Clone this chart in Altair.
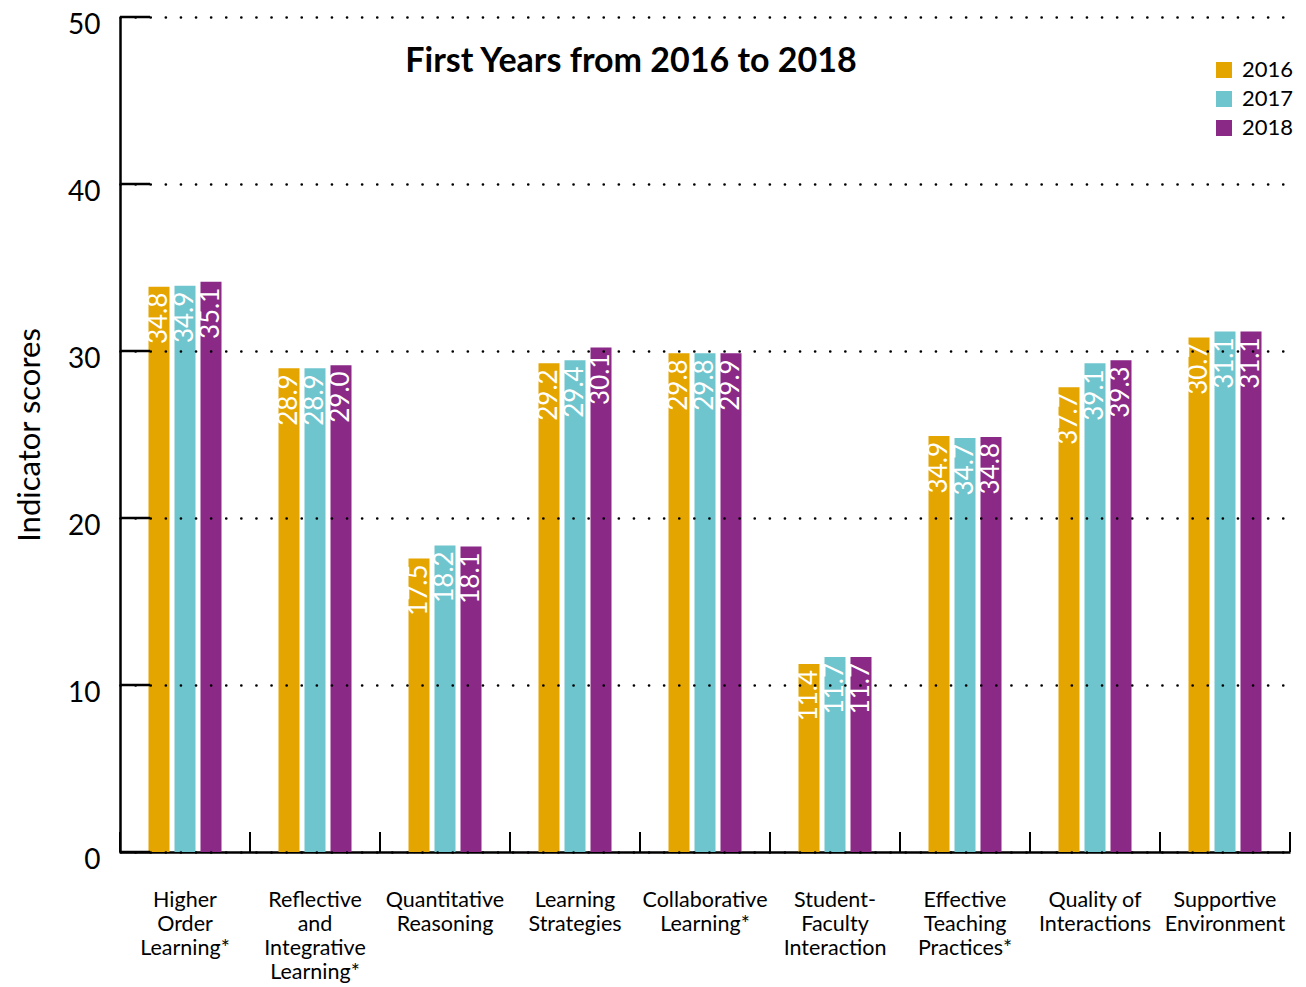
import altair as alt
import pandas as pd

categories = [
    "Higher|Order|Learning*",
    "Reflective|and|Integrative|Learning*",
    "Quantitative|Reasoning",
    "Learning|Strategies",
    "Collaborative|Learning*",
    "Student-|Faculty|Interaction",
    "Effective|Teaching|Practices*",
    "Quality of|Interactions",
    "Supportive|Environment",
]
years = ["2016", "2017", "2018"]

# bar heights as drawn in the picture
height_2016 = [33.85, 28.96, 17.58, 29.26, 29.86, 11.26, 24.91, 27.83, 30.81]
height_2017 = [33.91, 28.96, 18.36, 29.44, 29.86, 11.68, 24.79, 29.26, 31.17]
height_2018 = [34.15, 29.14, 18.30, 30.21, 29.86, 11.68, 24.85, 29.44, 31.17]

# value labels printed on the bars
label_2016 = ["34.8", "28.9", "17.5", "29.2", "29.8", "11.4", "34.9", "37.7", "30.7"]
label_2017 = ["34.9", "28.9", "18.2", "29.4", "29.8", "11.7", "34.7", "39.1", "31.1"]
label_2018 = ["35.1", "29.0", "18.1", "30.1", "29.9", "11.7", "34.8", "39.3", "31.1"]

y_ticks = [0, 10, 20, 30, 40, 50]
colors = ["#E5A500", "#6FC5CE", "#8B2987"]
title_text = "First Years from 2016 to 2018"

rows = []
for yr, hs, ls in zip(years, [height_2016, height_2017, height_2018], [label_2016, label_2017, label_2018]):
    for c, h, l in zip(categories, hs, ls):
        rows.append({"cat": c, "year": yr, "height": h, "label": l})
df = pd.DataFrame(rows)

FONT = "Lato"
W, H = 1170, 835

x_scale = alt.Scale(paddingInner=0, paddingOuter=0)
x_enc = alt.X(
    "cat:N",
    sort=categories,
    scale=x_scale,
    axis=alt.Axis(
        title=None,
        labelExpr="split(datum.label, '|')",
        labelAngle=0,
        labelFontSize=21.5,
        labelLineHeight=24,
        labelBaseline="top",
        labelPadding=37,
        labelFont=FONT,
        labelColor="black",
        labelOverlap=False,
        labelLimit=300,
        ticks=False,
        domainColor="black",
        domainWidth=2.5,
    ),
)
# empty slots either side of the three years keep each group centred in its category
offset_domain = [" "] + years + ["  "]
xoff = alt.XOffset("year:N", scale=alt.Scale(domain=offset_domain, paddingInner=0.1923, paddingOuter=0.096))
y_scale = alt.Scale(domain=[0, 50], nice=False)

bars = alt.Chart(df).mark_bar().encode(
    x=x_enc,
    xOffset=xoff,
    y=alt.Y(
        "height:Q",
        scale=y_scale,
        title="Indicator scores",
        axis=alt.Axis(
            values=y_ticks,
            titleFontSize=31,
            titleFontWeight="normal",
            titleFont=FONT,
            titleColor="black",
            titlePadding=21,
            labelFontSize=28,
            labelFont=FONT,
            labelColor="black",
            labelPadding=20,
            labelOffset=8,
            ticks=False,
            domainColor="black",
            domainWidth=2.5,
            grid=True,
            gridColor="black",
            gridDash=[0.1, 15],
            gridCap="round",
            gridWidth=2.6,
            zindex=1,
        ),
    ),
    color=alt.Color(
        "year:N",
        scale=alt.Scale(domain=years, range=colors),
        legend=alt.Legend(
            title=None,
            orient="none",
            legendX=1093,
            legendY=42,
            symbolType="square",
            symbolSize=256,
            symbolStrokeWidth=0,
            labelFontSize=22,
            labelFont=FONT,
            labelColor="black",
            labelOffset=7,
            rowPadding=7,
            padding=0,
        ),
    ),
)

texts = alt.Chart(df).mark_text(
    angle=270, align="right", baseline="middle", dx=-6, color="white", fontSize=26, font=FONT
).encode(
    x=alt.X("cat:N", sort=categories, scale=x_scale),
    xOffset=xoff,
    y=alt.Y("height:Q", scale=y_scale),
    text="label:N",
)

tick_df = pd.DataFrame({"t": y_ticks})
y_tick_rules = alt.Chart(tick_df).mark_rule(color="black", strokeWidth=2.5).encode(
    y=alt.Y("t:Q", scale=y_scale),
    x=alt.value(0),
    x2=alt.value(30),
)

cat_df = pd.DataFrame({"cat": categories})
x_tick_rules = alt.Chart(cat_df).mark_rule(color="black", strokeWidth=2).encode(
    x=alt.X("cat:N", sort=categories, bandPosition=0, scale=x_scale),
    y=alt.value(H - 20),
    y2=alt.value(H),
)
end_tick = alt.Chart(cat_df.head(1)).mark_rule(color="black", strokeWidth=2).encode(
    x=alt.value(W),
    y=alt.value(H - 20),
    y2=alt.value(H),
)

title_df = pd.DataFrame({"t": [title_text]})
title = alt.Chart(title_df).mark_text(
    fontSize=34, fontWeight="bold", font=FONT, color="black", align="center", baseline="alphabetic"
).encode(text="t:N", x=alt.value(511), y=alt.value(55))

chart = alt.layer(bars, texts, y_tick_rules, x_tick_rules, end_tick, title).properties(
    width=W,
    height=H,
    autosize=alt.AutoSizeParams(type="none"),
    padding={"left": 112, "top": 9, "right": 8, "bottom": 131},
).configure_view(stroke=None)

chart.save("out.html", embed_options={"renderer": "svg", "actions": False})
